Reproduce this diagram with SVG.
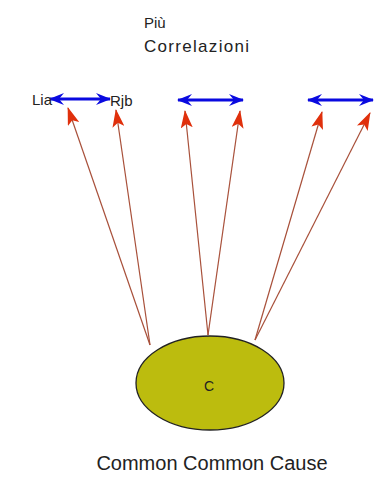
<svg xmlns="http://www.w3.org/2000/svg" width="374" height="493" viewBox="0 0 374 493">
<defs>
<style>
text{font-family:"Liberation Sans",Arial,sans-serif;fill:#222}
.red{stroke:#a8503a;stroke-width:1.2;fill:none}
.blue{stroke:#0a0ae0;stroke-width:3;fill:none}
</style>
<marker id="ra" viewBox="0 0 18 12" refX="17" refY="6" markerWidth="18" markerHeight="12" markerUnits="userSpaceOnUse" orient="auto">
<path d="M0,0 L18,6 L0,12 L4,6 Z" fill="#e0300c"/>
</marker>
<marker id="bs" viewBox="0 0 15 12" refX="1" refY="6" markerWidth="15" markerHeight="12" markerUnits="userSpaceOnUse" orient="auto">
<path d="M15,0 L0,6 L15,12 L10,6 Z" fill="#0a0ae0"/>
</marker>
<marker id="be" viewBox="0 0 15 12" refX="14" refY="6" markerWidth="15" markerHeight="12" markerUnits="userSpaceOnUse" orient="auto">
<path d="M0,0 L15,6 L0,12 L5,6 Z" fill="#0a0ae0"/>
</marker>
</defs>
<rect width="374" height="493" fill="#fff"/>
<g id="title">
<text x="144" y="28" font-size="15">Più</text>
<text x="144" y="52" font-size="17" textLength="105" lengthAdjust="spacing">Correlazioni</text>
</g>
<g id="connectors">
<line class="red" x1="150" y1="345" x2="68" y2="108" marker-end="url(#ra)"/>
<line class="red" x1="150" y1="345" x2="116" y2="110" marker-end="url(#ra)"/>
<line class="red" x1="208" y1="335" x2="185" y2="111" marker-end="url(#ra)"/>
<line class="red" x1="208" y1="335" x2="240" y2="111" marker-end="url(#ra)"/>
<line class="red" x1="255" y1="340" x2="322" y2="112" marker-end="url(#ra)"/>
<line class="red" x1="255" y1="340" x2="370" y2="113" marker-end="url(#ra)"/>
<line class="blue" x1="50" y1="99" x2="110" y2="99" marker-start="url(#bs)" marker-end="url(#be)"/>
<line class="blue" x1="178" y1="100" x2="243" y2="100" marker-start="url(#bs)" marker-end="url(#be)"/>
<line class="blue" x1="308" y1="100" x2="373" y2="100" marker-start="url(#bs)" marker-end="url(#be)"/>
</g>
<g id="Lia"><text x="32" y="105" font-size="15">Lia</text></g>
<g id="Rjb"><text x="110" y="106" font-size="15">Rjb</text></g>
<g id="C">
<ellipse cx="210" cy="383" rx="74" ry="47" fill="#bcbc0e" stroke="#222" stroke-width="1.3"/>
<text x="209" y="391" font-size="14" text-anchor="middle">C</text>
</g>
<g id="caption"><text x="212" y="470" font-size="20" text-anchor="middle">Common Common Cause</text></g>
</svg>
